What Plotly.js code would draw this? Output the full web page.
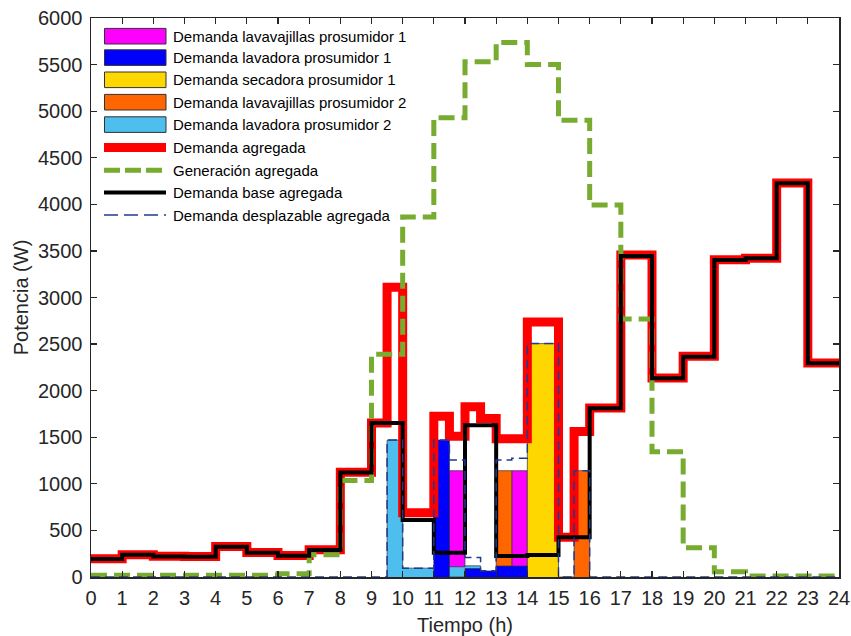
<!DOCTYPE html>
<html>
<head>
<meta charset="utf-8">
<script src="https://cdn.plot.ly/plotly-3.0.1.min.js"></script>
<style>html,body{margin:0;padding:0;background:#fff;}#chart{width:851px;height:636px;}</style>
</head>
<body>
<div id="chart"></div>
<script>
// ---- data ----
const hours = [0,1,2,3,4,5,6,7,8,9,10,11,12,13,14,15,16,17,18,19,20,21,22,23,24];
const baseDemand = [192,238,220,218,325,261,229,290,1122,1652,612,261,1630,225,236,426,1811,3445,2132,2365,3402,3420,4225,2293,2293];
const generation = [20,20,20,20,20,20,35,240,1035,2390,3865,4930,5530,5738,5500,4903,3992,2769,1345,315,57,10,10,10,10];

const totalTime  = [0,1,2,3,4,5,6,7,8,9,9.5,10,11,11.5,12,12.5,13,14,15,15.5,16,17,18,19,20,21,22,23,24];
const totalValue = [195,240,222,220,327,263,231,292,1125,1652,3110,690,1725,1510,1828,1700,1485,2737,426,1562,1815,3455,2135,2370,3405,3422,4230,2297,2297];

const shiftTime  = [0,9.5,10,11,11.5,12,12.5,13,13.5,14,15,15.5,16,24];
const shiftValue = [0,1470,95,1470,1256,210,68,1256,1275,2505,0,1141,0,0];

const dish1Time = [11.5,11.5,12,13.5,14];      const dish1Value = [0,1141,0,1141,0];
const wash1Time = [11,11,11.5,12,12.5,13,14];  const wash1Value = [0,1470,0,90,65,118,0];
const dry1Time  = [14,14,15];                  const dry1Value  = [0,2505,0];
const dish2Time = [13,13,13.5,15.5,16];        const dish2Value = [0,1141,0,1141,0];
const wash2Time = [9.5,9.5,10,11,12,12.5];     const wash2Value = [0,1470,95,110,120,0];

const names = [
  'Demanda lavavajillas prosumidor 1',
  'Demanda lavadora prosumidor 1',
  'Demanda secadora prosumidor 1',
  'Demanda lavavajillas prosumidor 2',
  'Demanda lavadora prosumidor 2',
  'Demanda agregada',
  'Generación agregada',
  'Demanda base agregada',
  'Demanda desplazable agregada'
];

const C = {
  dish1: '#FF00FF', wash1: '#0000FF', dry1: '#FFD700', dish2: '#FF6600', wash2: '#4DBEEE',
  total: '#FF0000', gen: '#77AC30', base: '#000000', shift: '#1F3A93'
};

function patch(x, y, name, color) {
  return {x: x, y: y, name: name, type: 'scatter', mode: 'lines',
    line: {shape: 'hv', color: '#333333', width: 0.7},
    fill: 'tozeroy', fillcolor: color, hoverinfo: 'skip'};
}

const traces = [
  patch(dish1Time, dish1Value, names[0], C.dish1),
  patch(dish2Time, dish2Value, names[3], C.dish2),
  patch(dry1Time,  dry1Value,  names[2], C.dry1),
  patch(wash2Time, wash2Value, names[4], C.wash2),
  patch(wash1Time, wash1Value, names[1], C.wash1),
  {x: totalTime, y: totalValue, name: names[5], type: 'scatter', mode: 'lines',
   line: {shape: 'hv', color: C.total, width: 9}},
  {x: hours, y: generation, name: names[6], type: 'scatter', mode: 'lines',
   line: {shape: 'hv', color: C.gen, width: 5, dash: '16px,7px'}},
  {x: hours, y: baseDemand, name: names[7], type: 'scatter', mode: 'lines',
   line: {shape: 'hv', color: C.base, width: 4}},
  {x: shiftTime, y: shiftValue, name: names[8], type: 'scatter', mode: 'lines',
   line: {shape: 'hv', color: C.shift, width: 1.5, dash: '9px,5px'}}
];

// ---- legend drawn MATLAB-style (boxes + text) ----
const W = 851, H = 636, M = {l: 91, r: 12, t: 18, b: 59};
const pw = W - M.l - M.r, ph = H - M.t - M.b;
const px = v => (v - M.l) / pw;
const py = v => (H - M.b - v) / ph;
const rows = [36.2, 57.6, 79.8, 102.2, 124.6, 147.5, 170.2, 192.6, 215.0];
const legendItems = [
  {kind: 'patch', color: C.dish1}, {kind: 'patch', color: C.wash1}, {kind: 'patch', color: C.dry1},
  {kind: 'patch', color: C.dish2}, {kind: 'patch', color: C.wash2},
  {kind: 'line', color: C.total, width: 9, dash: 'solid'},
  {kind: 'line', color: C.gen, width: 5, dash: '16px,5px'},
  {kind: 'line', color: C.base, width: 4, dash: 'solid'},
  {kind: 'line', color: C.shift, width: 1.5, dash: '14px,6px'}
];
const shapes = [], annotations = [];
legendItems.forEach((it, i) => {
  const yc = rows[i];
  if (it.kind === 'patch') {
    shapes.push({type: 'rect', xref: 'paper', yref: 'paper',
      x0: px(104.5), x1: px(166), y0: py(yc + 7.8), y1: py(yc - 7.8),
      fillcolor: it.color, line: {color: '#333333', width: 1}});
  } else {
    shapes.push({type: 'line', xref: 'paper', yref: 'paper',
      x0: px(104), x1: px(166), y0: py(yc), y1: py(yc),
      line: {color: it.color, width: it.width, dash: it.dash}});
  }
  annotations.push({xref: 'paper', yref: 'paper', x: px(170.5), y: py(yc),
    xanchor: 'left', yanchor: 'middle', showarrow: false, text: names[i],
    font: {family: 'Liberation Sans, Arial, sans-serif', size: 15, color: '#000000'}});
});

const tickFont = {family: 'Liberation Sans, Arial, sans-serif', size: 20, color: '#262626'};
const titleFont = {family: 'Liberation Sans, Arial, sans-serif', size: 20, color: '#262626'};
const layout = {
  width: W, height: H,
  margin: M,
  paper_bgcolor: '#ffffff', plot_bgcolor: '#ffffff',
  font: tickFont,
  showlegend: false,
  shapes: shapes, annotations: annotations,
  xaxis: {range: [0, 24], tick0: 0, dtick: 1, ticks: 'inside', ticklen: 6, tickwidth: 1.2,
    tickcolor: '#262626', showline: true, linecolor: '#262626', linewidth: 1.5, mirror: 'ticks',
    showgrid: false, zeroline: false, tickfont: tickFont, ticklabelstandoff: 2,
    title: {text: 'Tiempo (h)', font: titleFont, standoff: 10}},
  yaxis: {range: [0, 6000], tick0: 0, dtick: 500, ticks: 'inside', ticklen: 6, tickwidth: 1.2,
    tickcolor: '#262626', showline: true, linecolor: '#262626', linewidth: 1.5, mirror: 'ticks',
    showgrid: false, zeroline: false, tickfont: tickFont, ticklabelstandoff: 3,
    title: {text: 'Potencia (W)', font: titleFont, standoff: 4}}
};

Plotly.newPlot('chart', traces, layout, {displayModeBar: false, staticPlot: true});
</script>
</body>
</html>
